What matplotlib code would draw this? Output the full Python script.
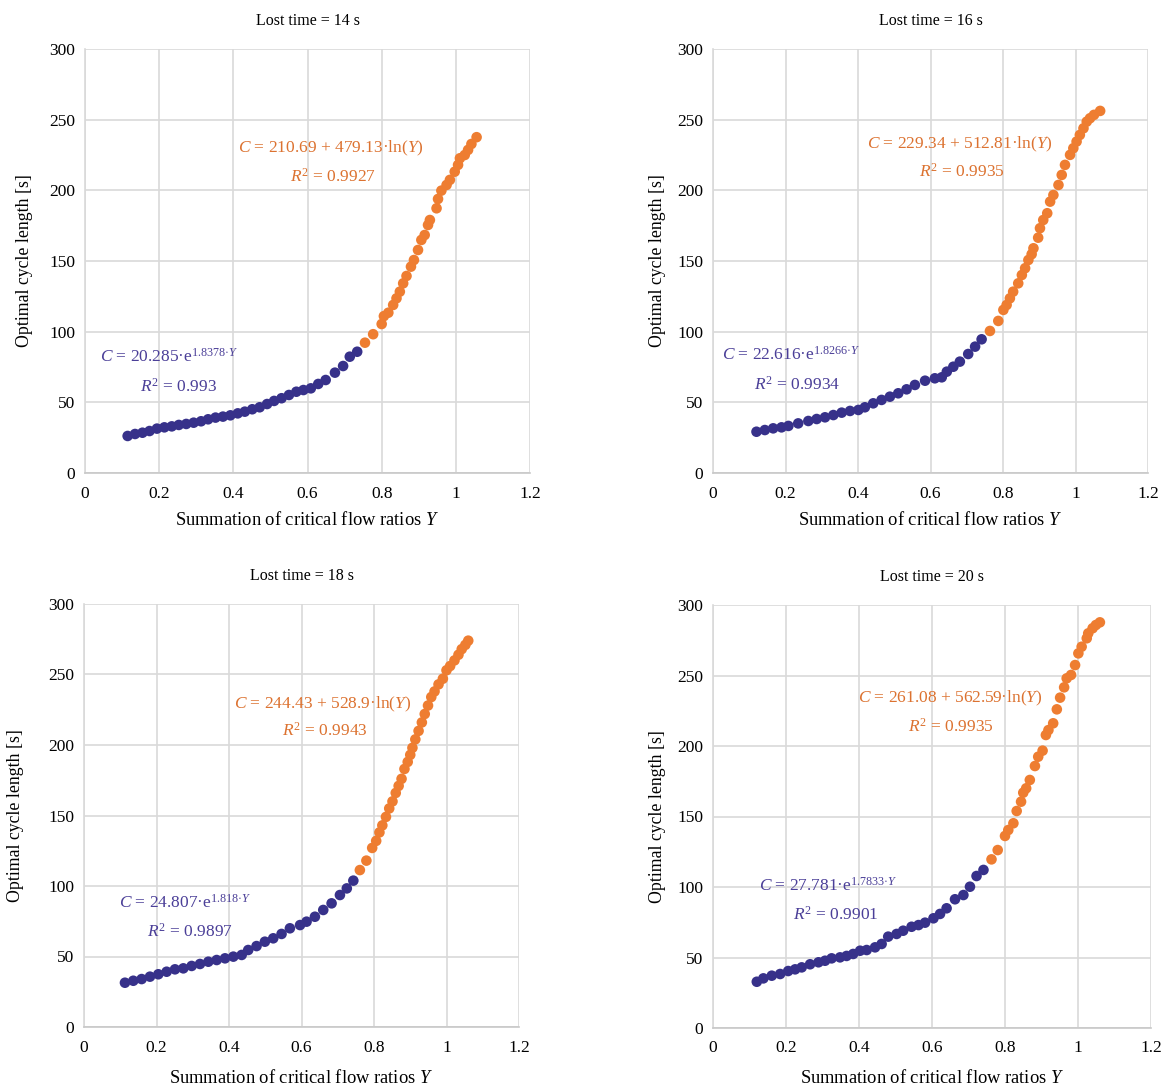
import matplotlib
matplotlib.use("Agg")
import matplotlib.pyplot as plt

plt.rcParams["font.family"] = ["Liberation Serif", "DejaVu Serif"]
plt.rcParams["mathtext.fontset"] = "custom"
plt.rcParams["mathtext.rm"] = "Liberation Serif"
plt.rcParams["mathtext.it"] = "Liberation Serif:italic"
plt.rcParams["mathtext.bf"] = "Liberation Serif:bold"

BLUE = "#37318a"
ORANGE = "#ee7d31"
BLUE_TXT = "#4b3f98"
ORANGE_TXT = "#dc7230"

# ---- lost time = 14 s
Y14_low = [0.115, 0.135, 0.155, 0.174, 0.194, 0.214, 0.234, 0.253, 0.273, 0.293, 0.313,
           0.332, 0.352, 0.372, 0.392, 0.412, 0.431, 0.451, 0.471, 0.491, 0.510, 0.530,
           0.550, 0.570, 0.589, 0.609, 0.629, 0.649, 0.674, 0.696, 0.714, 0.734]
C14_low = [26.2, 27.6, 28.5, 29.7, 31.4, 32.3, 33.0, 34.0, 34.7, 35.6, 36.6,
           38.0, 39.2, 39.9, 40.8, 42.2, 43.4, 45.1, 46.5, 48.8, 51.0, 52.9,
           55.2, 57.5, 58.7, 59.9, 63.0, 65.8, 71.0, 75.7, 82.3, 85.8]
Y14_high = [0.755, 0.777, 0.800, 0.806, 0.818, 0.831, 0.840, 0.849, 0.858, 0.867, 0.879,
            0.887, 0.898, 0.907, 0.916, 0.925, 0.930, 0.948, 0.952, 0.961, 0.975,
            0.984, 0.997, 1.006, 1.011, 1.024, 1.033, 1.042, 1.056]
C14_high = [92.2, 98.2, 105.4, 111.0, 113.4, 118.9, 123.6, 128.3, 134.2, 139.4, 146.0,
            150.7, 157.8, 164.9, 168.4, 175.5, 179.0, 187.3, 193.9, 199.8, 203.8,
            207.4, 213.2, 218.0, 222.7, 225.0, 228.6, 232.8, 237.6]

# ---- lost time = 16 s
Y16_low = [0.120, 0.143, 0.166, 0.189, 0.208, 0.235, 0.263, 0.286, 0.309, 0.332, 0.355,
           0.378, 0.401, 0.419, 0.442, 0.465, 0.488, 0.511, 0.534, 0.557, 0.585, 0.612,
           0.631, 0.645, 0.663, 0.681, 0.704, 0.723, 0.741]
C16_low = [29.2, 30.4, 31.6, 32.3, 33.3, 35.1, 36.8, 38.2, 39.4, 41.0, 42.7,
           43.9, 44.6, 46.5, 49.3, 51.7, 54.0, 56.4, 59.2, 62.3, 65.3, 67.0,
           67.7, 71.7, 75.2, 78.8, 84.2, 89.4, 94.6]
Y16_high = [0.764, 0.787, 0.801, 0.810, 0.819, 0.828, 0.842, 0.852, 0.861, 0.870, 0.879,
            0.884, 0.897, 0.902, 0.911, 0.922, 0.930, 0.939, 0.953, 0.962, 0.971,
            0.985, 0.994, 1.003, 1.012, 1.022, 1.031, 1.040, 1.051, 1.068]
C16_high = [100.5, 107.6, 115.4, 118.9, 123.6, 128.3, 134.2, 140.1, 144.9, 150.7, 154.8,
            159.0, 166.5, 173.2, 179.0, 183.8, 192.0, 196.7, 203.8, 210.9, 218.0,
            225.1, 229.8, 234.5, 239.2, 243.9, 248.6, 251.0, 253.4, 256.2]

# ---- lost time = 18 s
Y18_low = [0.113, 0.136, 0.159, 0.182, 0.205, 0.228, 0.251, 0.274, 0.297, 0.320, 0.343,
           0.366, 0.389, 0.412, 0.435, 0.453, 0.476, 0.499, 0.522, 0.545, 0.568, 0.596,
           0.614, 0.637, 0.660, 0.683, 0.706, 0.725, 0.743]
C18_low = [31.4, 32.8, 34.0, 35.7, 37.4, 39.2, 40.9, 41.6, 43.3, 44.7, 46.3,
           47.5, 48.7, 49.9, 51.1, 54.6, 57.4, 60.5, 62.9, 66.0, 70.0, 72.3,
           74.7, 78.2, 83.0, 87.7, 93.6, 98.3, 103.8]
Y18_high = [0.761, 0.779, 0.795, 0.806, 0.815, 0.823, 0.833, 0.842, 0.851, 0.860, 0.868,
            0.876, 0.884, 0.893, 0.900, 0.906, 0.914, 0.923, 0.932, 0.940, 0.949,
            0.958, 0.967, 0.978, 0.990, 1.000, 1.010, 1.022, 1.033, 1.042, 1.052, 1.060]
C18_high = [111.3, 118.0, 127.0, 132.0, 138.0, 143.0, 149.0, 155.0, 160.0, 166.0, 171.0,
            176.0, 183.0, 188.0, 193.0, 198.0, 204.0, 210.0, 216.0, 222.0, 228.0,
            234.0, 238.0, 243.0, 247.0, 253.0, 256.0, 260.0, 264.0, 268.0, 271.0, 274.0]

# ---- lost time = 20 s
Y20_low = [0.120, 0.138, 0.161, 0.184, 0.206, 0.225, 0.243, 0.266, 0.289, 0.307, 0.325,
           0.348, 0.366, 0.384, 0.403, 0.421, 0.444, 0.462, 0.480, 0.503, 0.521, 0.544,
           0.563, 0.581, 0.604, 0.622, 0.640, 0.663, 0.686, 0.704, 0.722, 0.741]
C20_low = [32.8, 35.2, 37.1, 38.3, 40.4, 41.6, 43.0, 45.2, 46.6, 47.7, 49.4,
           50.1, 51.1, 52.5, 54.8, 55.3, 57.2, 59.6, 64.8, 66.7, 69.0, 71.8,
           73.0, 74.7, 77.8, 80.9, 84.9, 91.3, 94.3, 100.2, 107.8, 112.1]
Y20_high = [0.763, 0.780, 0.800, 0.809, 0.823, 0.832, 0.844, 0.850, 0.858, 0.868, 0.882,
            0.891, 0.903, 0.912, 0.919, 0.932, 0.942, 0.951, 0.962, 0.969, 0.981,
            0.992, 1.001, 1.010, 1.024, 1.028, 1.040, 1.049, 1.060]
C20_high = [119.6, 126.2, 136.2, 140.4, 145.2, 153.9, 160.5, 166.9, 170.0, 175.9, 185.8,
            192.4, 196.7, 207.8, 211.3, 216.1, 226.0, 234.3, 241.6, 248.0, 250.4,
            257.4, 265.7, 270.4, 276.4, 279.9, 283.5, 285.8, 287.7]

TITLES = ["Lost time = 14 s", "Lost time = 16 s", "Lost time = 18 s", "Lost time = 20 s"]
EXP_FITS = [r"$C$ = 20.285·e$^{1.8378·Y}$",
            r"$C$ = 22.616·e$^{1.8266·Y}$",
            r"$C$ = 24.807·e$^{1.818·Y}$",
            r"$C$ = 27.781·e$^{1.7833·Y}$"]
EXP_R2 = [r"$R^2$ = 0.993", r"$R^2$ = 0.9934", r"$R^2$ = 0.9897", r"$R^2$ = 0.9901"]
LOG_FITS = [r"$C$ = 210.69 + 479.13·ln($Y$)",
            r"$C$ = 229.34 + 512.81·ln($Y$)",
            r"$C$ = 244.43 + 528.9·ln($Y$)",
            r"$C$ = 261.08 + 562.59·ln($Y$)"]
LOG_R2 = [r"$R^2$ = 0.9927", r"$R^2$ = 0.9935", r"$R^2$ = 0.9943", r"$R^2$ = 0.9935"]

panels = [
    (Y14_low, C14_low, Y14_high, C14_high),
    (Y16_low, C16_low, Y16_high, C16_high),
    (Y18_low, C18_low, Y18_high, C18_high),
    (Y20_low, C20_low, Y20_high, C20_high),
]

# axes boxes in pixels: left, right, top, bottom
W, H = 1167, 1087
boxes = [(85, 530, 49, 473), (713, 1148, 49, 473),
         (84, 519, 604, 1027), (713, 1151, 605, 1028)]
ylab_off = [60, 56, 68, 56]
xlab_off = [47, 47, 51, 50]
# text anchors (x, C) in data units
exp_pos = [((0.227, 82), (0.251, 61)), ((0.215, 83.5), (0.232, 62.3)),
           ((0.279, 88), (0.292, 67.4)), ((0.315, 100.7), (0.337, 80.1))]
log_pos = [((0.663, 230), (0.669, 209.5)), ((0.681, 232.8), (0.687, 213)),
           ((0.657, 229), (0.665, 210)), ((0.649, 234), (0.652, 214))]

fig = plt.figure(figsize=(W / 100, H / 100), dpi=100)

for i, (yl, cl, yh, ch) in enumerate(panels):
    l, r, t, b = boxes[i]
    ax = fig.add_axes([l / W, 1 - b / H, (r - l) / W, (b - t) / H])
    ax.scatter(yl, cl, s=58, color=BLUE, edgecolors="none", zorder=3)
    ax.scatter(yh, ch, s=58, color=ORANGE, edgecolors="none", zorder=3)

    ax.set_xlim(0, 1.2)
    ax.set_ylim(0, 300)
    ax.set_xticks([0, 0.2, 0.4, 0.6, 0.8, 1.0, 1.2])
    ax.set_xticklabels(["0", "0.2", "0.4", "0.6", "0.8", "1", "1.2"])
    ax.set_yticks(range(0, 301, 50))
    ax.grid(True, color="#d9d9d9", linewidth=1.2)
    ax.set_axisbelow(True)
    for sp in ["top", "right"]:
        ax.spines[sp].set_visible(False)
    ax.spines["left"].set_color("#d9d9d9")
    ax.spines["bottom"].set_color("#c8c8c8")
    ax.spines["left"].set_linewidth(1.2)
    ax.spines["bottom"].set_linewidth(1.2)
    ax.tick_params(length=0, labelsize=12.5, colors="#000000")
    ax.tick_params(axis="x", pad=9)
    ax.tick_params(axis="y", pad=7)

    ax.set_title(TITLES[i], fontsize=11.5, pad=17)
    ax.set_ylabel("Optimal cycle length [s]", fontsize=12.8)
    ax.set_xlabel("Summation of critical flow ratios $Y$", fontsize=13.3)
    ax.yaxis.label.set_va("center")
    ax.xaxis.label.set_va("center")
    ax.yaxis.set_label_coords(-ylab_off[i] / (r - l), 0.5)
    ax.xaxis.set_label_coords(0.5, -xlab_off[i] / (b - t))

    (x1, y1), (x2, y2) = exp_pos[i]
    ax.text(x1, y1, EXP_FITS[i], color=BLUE_TXT, fontsize=12.5, ha="center", va="center")
    ax.text(x2, y2, EXP_R2[i], color=BLUE_TXT, fontsize=12.5, ha="center", va="center")
    (x1, y1), (x2, y2) = log_pos[i]
    ax.text(x1, y1, LOG_FITS[i], color=ORANGE_TXT, fontsize=12.5, ha="center", va="center")
    ax.text(x2, y2, LOG_R2[i], color=ORANGE_TXT, fontsize=12.5, ha="center", va="center")

fig.savefig("out.png", dpi=100)
plt.close(fig)
